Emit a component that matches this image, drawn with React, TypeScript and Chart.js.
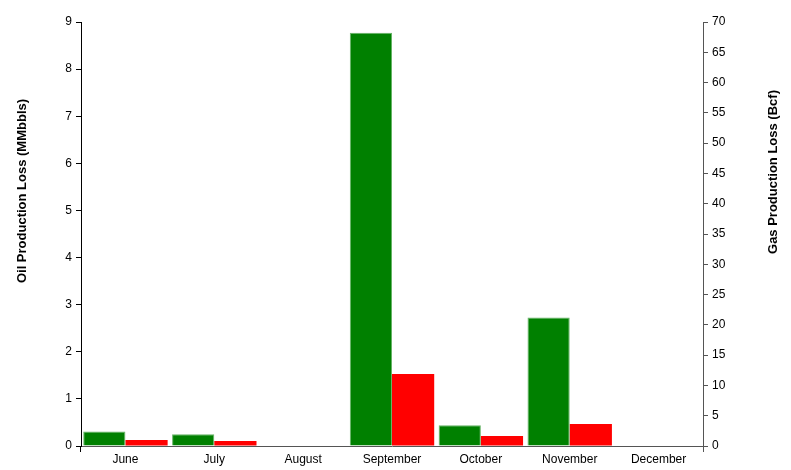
import React, { useEffect, useRef } from "react";
import { Chart, registerables } from "chart.js";

Chart.register(...registerables);

const months = ["June", "July", "August", "September", "October", "November", "December"];
const oilLoss = [0.31, 0.25, 0, 8.77, 0.44, 2.73, 0];
const gasLoss = [1.0, 0.83, 0, 11.9, 1.65, 3.63, 0];
const oilTitle = "Oil Production Loss (MMbbls)";
const gasTitle = "Gas Production Loss (Bcf)";

const FONT = "'Liberation Sans', Arial, sans-serif";

const extras = {
  id: "extras",
  afterDraw(chart: any) {
    const { ctx, chartArea } = chart;
    ctx.save();
    ctx.lineWidth = 1;
    ctx.strokeStyle = "#000";
    ctx.beginPath();
    ctx.moveTo(Math.round(chartArea.left) - 0.5, chartArea.bottom);
    ctx.lineTo(Math.round(chartArea.left) - 0.5, chartArea.bottom + 6);
    ctx.stroke();
    ctx.strokeStyle = "#555";
    ctx.beginPath();
    ctx.moveTo(Math.round(chartArea.right) + 0.5, chartArea.bottom);
    ctx.lineTo(Math.round(chartArea.right) + 0.5, chartArea.bottom + 6);
    ctx.stroke();

    ctx.fillStyle = "#000";
    ctx.font = `bold 13px ${FONT}`;
    ctx.textAlign = "center";
    ctx.textBaseline = "middle";
    const drawV = (text: string, x: number, y: number) => {
      ctx.save();
      ctx.translate(x, y);
      ctx.rotate(-Math.PI / 2);
      ctx.fillText(text, 0, 0);
      ctx.restore();
    };
    drawV(oilTitle, 22, 191);
    drawV(gasTitle, 773, 172);
    ctx.restore();
  },
};

export default function App() {
  const ref = useRef<HTMLCanvasElement>(null);
  useEffect(() => {
    const chart = new Chart(ref.current!, {
      type: "bar",
      data: {
        labels: months,
        datasets: [
          {
            label: oilTitle,
            data: oilLoss,
            yAxisID: "y",
            backgroundColor: "#008000",
            borderColor: "#66b366",
            borderWidth: { top: 1, left: 1, right: 1, bottom: 0 },
            barPercentage: 1,
            categoryPercentage: 0.95,
          },
          {
            label: gasTitle,
            data: gasLoss,
            yAxisID: "y1",
            backgroundColor: "#ff0000",
            borderWidth: 0,
            barPercentage: 1,
            categoryPercentage: 0.95,
          },
        ],
      },
      options: {
        animation: false,
        responsive: false,
        layout: { padding: { top: 22, left: 0, right: 0, bottom: 0 } },
        plugins: { legend: { display: false }, tooltip: { enabled: false } },
        scales: {
          x: {
            grid: { display: false, drawTicks: false },
            border: { color: "#555", width: 1 },
            ticks: { color: "#000", font: { family: FONT, size: 12 }, padding: 6 },
            afterFit: (s: any) => { s.height = 24; },
          },
          y: {
            position: "left",
            min: 0,
            max: 9,
            ticks: { stepSize: 1, color: "#000", font: { family: FONT, size: 12 }, padding: 4 },
            grid: { drawOnChartArea: false, drawTicks: true, tickLength: 5, color: "#000" },
            border: { color: "#000", width: 1 },
            afterFit: (s: any) => { s.width = 81; },
          },
          y1: {
            position: "right",
            min: 0,
            max: 70,
            ticks: { stepSize: 5, color: "#000", font: { family: FONT, size: 12 }, padding: 4 },
            grid: { drawOnChartArea: false, drawTicks: true, tickLength: 5, color: "#555" },
            border: { color: "#555", width: 1 },
            afterFit: (s: any) => { s.width = 88; },
          },
        },
      },
      plugins: [extras],
    });
    return () => chart.destroy();
  }, []);
  return (
    <div style={{ position: "absolute", left: 0, top: 0, width: 791, height: 470, background: "#fff" }}>
      <canvas ref={ref} width={791} height={470} style={{ width: 791, height: 470 }} />
    </div>
  );
}
